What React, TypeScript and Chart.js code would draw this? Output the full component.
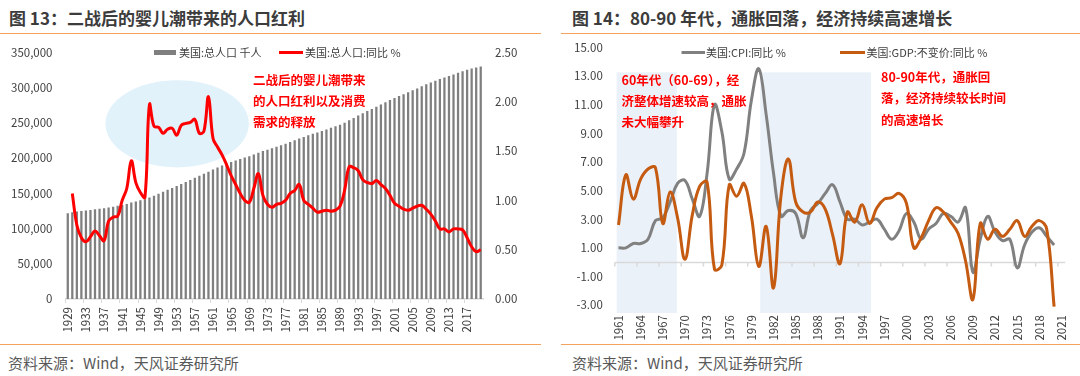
import React, { useEffect, useRef } from 'react';
import { Chart, registerables } from 'chart.js';

Chart.register(...registerables);

const FONT = "'Noto Sans CJK SC', 'Noto Sans', sans-serif";
const RULE = '#F4A35F';
const TICK = '#404040';

// ---------- 图 13 data ----------
const popStartYear = 1929;
const popYears: string[] = Array.from({ length: 92 }, (_, i) => String(popStartYear + i));
// 美国:总人口 千人
const popTotal: number[] = [
  121767, 123077, 124040, 124840, 125579, 126374, 127250, 128053, 128825, 129825,
  130880, 132122, 133402, 134860, 136739, 138397, 139928, 141389, 144126, 146631,
  149188, 152271, 154878, 157553, 160184, 163026, 165931, 168903, 171984, 174882,
  177830, 180671, 183691, 186538, 189242, 191889, 194303, 196560, 198712, 200706,
  202677, 205052, 207661, 209896, 211909, 213854, 215973, 218035, 220239, 222585,
  225055, 227726, 229966, 232188, 234307, 236348, 238466, 240651, 242804, 245021,
  247342, 250132, 253493, 256894, 260255, 263436, 266557, 269667, 272912, 276115,
  279295, 282398, 285225, 287955, 290626, 293262, 295993, 298818, 301696, 304543,
  307240, 309774, 311975, 314167, 316313, 318609, 320871, 323085, 325130, 326915,
  328478, 330000,
];
// 美国:总人口:同比 %
const popGrowth: (number | null)[] = [
  null, 1.07, 0.75, 0.62, 0.58, 0.63, 0.69, 0.64, 0.59, 0.79,
  0.83, 0.84, 1.0, 1.12, 1.4, 1.18, 1.08, 1.03, 1.97, 1.75,
  1.74, 1.68, 1.72, 1.73, 1.66, 1.76, 1.78, 1.79, 1.82, 1.68,
  1.7, 2.05, 1.63, 1.54, 1.46, 1.36, 1.25, 1.16, 1.07, 1.0,
  0.98, 1.12, 1.27, 1.05, 0.96, 0.93, 0.96, 0.97, 1.0, 1.07,
  1.1, 1.16, 1.0, 0.96, 0.92, 0.88, 0.89, 0.9, 0.89, 0.9,
  0.94, 1.1, 1.34, 1.33, 1.3, 1.21, 1.18, 1.17, 1.2, 1.16,
  1.12, 1.05, 0.97, 0.94, 0.91, 0.9, 0.92, 0.94, 0.95, 0.91,
  0.86, 0.79, 0.71, 0.71, 0.68, 0.71, 0.71, 0.7, 0.62, 0.53,
  0.48, 0.5,
];
const popLeftTicks = { min: 0, max: 350000, step: 50000 };
const popRightTicks = { min: 0, max: 2.5, step: 0.5 };
const boomEllipse = { year: 1953.1, value: 248600, halfYears: 15.8, halfValue: 61900 };
const leftNote = ['二战后的婴儿潮带来', '的人口红利以及消费', '需求的释放'];

// ---------- 图 14 data ----------
const macroStartYear = 1961;
const macroYears: string[] = Array.from({ length: 61 }, (_, i) => String(macroStartYear + i));
// 美国:CPI:同比 %
const cpi: number[] = [
  1.0, 1.0, 1.3, 1.3, 1.6, 2.9, 3.1, 4.2, 5.5, 5.7,
  4.4, 3.2, 6.2, 11.0, 9.1, 5.8, 6.5, 7.6, 11.3, 13.5,
  10.3, 6.2, 3.2, 3.6, 3.4, 1.7, 3.6, 4.1, 4.8, 5.4,
  4.2, 3.0, 3.0, 2.6, 2.8, 3.0, 2.3, 1.6, 2.2, 3.4,
  2.8, 1.6, 2.3, 2.7, 3.4, 3.2, 2.8, 3.8, -0.7, 1.6,
  3.2, 2.1, 1.5, 1.6, -0.4, 1.2, 2.1, 2.4, 1.8, 1.2,
];
// 美国:GDP:不变价:同比 %
const gdp: number[] = [
  2.6, 6.1, 4.4, 5.8, 6.5, 6.6, 2.7, 4.9, 3.1, 0.2,
  3.3, 5.3, 5.6, -0.5, -0.2, 5.4, 4.6, 5.5, 3.2, -0.3,
  2.5, -1.8, 4.6, 7.2, 4.2, 3.5, 3.5, 4.2, 3.7, 1.9,
  -0.1, 3.5, 2.8, 4.0, 2.7, 3.8, 4.4, 4.5, 4.8, 4.1,
  1.0, 1.7, 2.9, 3.8, 3.5, 2.8, 2.0, 0.1, -2.6, 2.7,
  1.6, 2.3, 1.8, 2.3, 2.9, 1.8, 2.5, 2.9, 2.3, -3.1,
];
const macroTicks: number[] = [-3, -1, 1, 3, 5, 7, 9, 11, 13, 15];
const macroRange = { min: -3.55, max: 15 };
const shadeBands: [number, number][] = [
  [1960.75, 1968.9],
  [1980.2, 1995.2],
];
const shadeTop = 13.25;
const note60s = ['60年代（60-69），经', '济整体增速较高，通胀', '未大幅攀升'];
const note80s = ['80-90年代，通胀回', '落，经济持续较长时间', '的高速增长'];

function drawNote(ctx: any, lines: string[], x: number, y: number, gap: number) {
  ctx.save();
  ctx.font = `bold 12.5px ${FONT}`;
  ctx.fillStyle = '#FF0000';
  ctx.textBaseline = 'middle';
  ctx.textAlign = 'left';
  lines.forEach((t, i) => ctx.fillText(t, x, y + i * gap));
  ctx.restore();
}

function legendText(ctx: any, text: string, x: number, y: number) {
  ctx.save();
  ctx.font = `11px ${FONT}`;
  ctx.fillStyle = TICK;
  ctx.textBaseline = 'middle';
  ctx.textAlign = 'left';
  ctx.fillText(text, x, y);
  ctx.restore();
}

const leftDecor = {
  id: 'leftDecor',
  beforeDatasetsDraw(chart: any) {
    const { ctx, scales } = chart;
    const x = scales.x;
    const y = scales.y;
    const cx = x.getPixelForValue(boomEllipse.year - popStartYear);
    const rx = Math.abs(x.getPixelForValue(boomEllipse.year + boomEllipse.halfYears - popStartYear) - cx);
    const cy = y.getPixelForValue(boomEllipse.value);
    const ry = Math.abs(y.getPixelForValue(boomEllipse.value + boomEllipse.halfValue) - cy);
    ctx.save();
    ctx.fillStyle = '#E1F2FB';
    ctx.beginPath();
    ctx.ellipse(cx, cy, rx, ry, 0, 0, Math.PI * 2);
    ctx.fill();
    ctx.restore();
  },
  afterDraw(chart: any) {
    const { ctx } = chart;
    const ds = chart.data.datasets;
    const bar = ds[1];
    const line = ds[0];
    ctx.save();
    ctx.fillStyle = bar.backgroundColor;
    ctx.fillRect(154, 50, 22, 5);
    ctx.strokeStyle = line.borderColor;
    ctx.lineWidth = 3;
    ctx.beginPath();
    ctx.moveTo(279, 52.5);
    ctx.lineTo(303, 52.5);
    ctx.stroke();
    ctx.restore();
    legendText(ctx, bar.label, 179, 52.5);
    legendText(ctx, line.label, 305, 52.5);
    drawNote(ctx, leftNote, 253, 80, 21.3);
  },
};

const rightDecor = {
  id: 'rightDecor',
  beforeDatasetsDraw(chart: any) {
    const { ctx, scales, chartArea } = chart;
    const x = scales.x;
    const y = scales.y;
    ctx.save();
    ctx.fillStyle = '#EAF1F8';
    const top = y.getPixelForValue(shadeTop);
    shadeBands.forEach(([a, b]) => {
      const x0 = x.getPixelForValue(a - macroStartYear);
      const x1 = x.getPixelForValue(b - macroStartYear);
      ctx.fillRect(x0, top, x1 - x0, chartArea.bottom - top);
    });
    const y0 = Math.round(y.getPixelForValue(0)) + 0.5;
    ctx.strokeStyle = '#D9D9D9';
    ctx.lineWidth = 1.5;
    ctx.beginPath();
    ctx.moveTo(chartArea.left, y0);
    ctx.lineTo(chartArea.right, y0);
    for (let i = 0; i <= macroYears.length; i += 3) {
      const px = x.getPixelForValue(i - 0.5);
      ctx.moveTo(px, y0);
      ctx.lineTo(px, y0 + 4);
    }
    ctx.stroke();
    ctx.restore();
  },
  afterDraw(chart: any) {
    const { ctx } = chart;
    const ds = chart.data.datasets;
    const spots = [
      { x0: 141.5, x1: 165, tx: 166 },
      { x0: 300, x1: 325, tx: 326.5 },
    ];
    ds.forEach((d: any, i: number) => {
      const s = spots[i];
      ctx.save();
      ctx.strokeStyle = d.borderColor;
      ctx.lineWidth = 3;
      ctx.beginPath();
      ctx.moveTo(s.x0, 52.5);
      ctx.lineTo(s.x1, 52.5);
      ctx.stroke();
      ctx.restore();
      legendText(ctx, d.label, s.tx, 52.5);
    });
    drawNote(ctx, note60s, 81.5, 80, 21.3);
    drawNote(ctx, note80s, 341, 77.3, 21.3);
  },
};

const tickFont = { family: FONT, size: 11.5 };

export default function App() {
  const leftRef = useRef<HTMLCanvasElement | null>(null);
  const rightRef = useRef<HTMLCanvasElement | null>(null);

  useEffect(() => {
    const left = new Chart(leftRef.current as any, {
      type: 'bar',
      data: {
        labels: popYears,
        datasets: [
          {
            type: 'line',
            label: '美国:总人口:同比 %',
            data: popGrowth,
            yAxisID: 'y1',
            borderColor: '#FF0000',
            backgroundColor: '#FF0000',
            borderWidth: 3,
            pointRadius: 0,
            tension: 0.4,
            order: 0,
          },
          {
            type: 'bar',
            label: '美国:总人口 千人',
            data: popTotal,
            yAxisID: 'y',
            backgroundColor: '#7F7F7F',
            barPercentage: 0.5,
            categoryPercentage: 1,
            order: 1,
          },
        ],
      } as any,
      options: {
        responsive: false,
        animation: false,
        devicePixelRatio: 1,
        layout: { padding: { top: 52.3, left: 0, right: 0, bottom: 0 } },
        plugins: { legend: { display: false }, tooltip: { enabled: false } },
        scales: {
          x: {
            offset: true,
            grid: {
              display: true,
              drawOnChartArea: false,
              drawTicks: true,
              tickLength: 4,
              offset: true,
              lineWidth: 1,
              color: (c: any) => (c.index % 4 === 0 ? '#D9D9D9' : 'rgba(0,0,0,0)'),
            },
            border: { display: true, color: '#D9D9D9', width: 1.5 },
            ticks: {
              autoSkip: false,
              minRotation: 90,
              maxRotation: 90,
              padding: 4,
              color: TICK,
              font: tickFont,
              callback: function (this: any, v: any, i: number) {
                return i % 4 === 0 ? popYears[i] : '';
              },
            },
            afterFit: (s: any) => {
              s.height = 45;
            },
          },
          y: {
            position: 'left',
            min: popLeftTicks.min,
            max: popLeftTicks.max,
            grid: { display: false, drawTicks: false },
            border: { display: false },
            ticks: {
              stepSize: popLeftTicks.step,
              padding: 13,
              color: TICK,
              font: tickFont,
              callback: (v: any) => Number(v).toLocaleString('en-US'),
            },
            afterFit: (s: any) => {
              s.width = 65.5;
            },
          },
          y1: {
            position: 'right',
            min: popRightTicks.min,
            max: popRightTicks.max,
            grid: { display: false, drawTicks: false },
            border: { display: false },
            ticks: {
              stepSize: popRightTicks.step,
              padding: 12,
              color: TICK,
              font: tickFont,
              callback: (v: any) => Number(v).toFixed(2),
            },
            afterFit: (s: any) => {
              s.width = 57;
            },
          },
        },
      } as any,
      plugins: [leftDecor],
    });

    const right = new Chart(rightRef.current as any, {
      type: 'line',
      data: {
        labels: macroYears,
        datasets: [
          {
            label: '美国:CPI:同比 %',
            data: cpi,
            borderColor: '#808080',
            backgroundColor: '#808080',
            borderWidth: 3,
            pointRadius: 0,
            tension: 0.4,
            order: 1,
          },
          {
            label: '美国:GDP:不变价:同比 %',
            data: gdp,
            borderColor: '#C55A11',
            backgroundColor: '#C55A11',
            borderWidth: 3,
            pointRadius: 0,
            tension: 0.4,
            order: 0,
          },
        ],
      } as any,
      options: {
        responsive: false,
        animation: false,
        devicePixelRatio: 1,
        layout: { padding: { top: 47.3, left: 0, right: 14.8, bottom: 0 } },
        plugins: { legend: { display: false }, tooltip: { enabled: false } },
        scales: {
          x: {
            offset: true,
            grid: { display: false, drawTicks: false },
            border: { display: false },
            ticks: {
              autoSkip: false,
              minRotation: 90,
              maxRotation: 90,
              padding: 2,
              color: TICK,
              font: tickFont,
              callback: function (this: any, v: any, i: number) {
                return i % 3 === 0 ? macroYears[i] : '';
              },
            },
            afterFit: (s: any) => {
              s.height = 31;
            },
          },
          y: {
            min: macroRange.min,
            max: macroRange.max,
            grid: { display: false, drawTicks: false },
            border: { display: false },
            afterBuildTicks: (s: any) => {
              s.ticks = macroTicks.map((v) => ({ value: v }));
            },
            ticks: {
              padding: 12,
              color: TICK,
              font: tickFont,
              callback: (v: any) => Number(v).toFixed(2),
            },
            afterFit: (s: any) => {
              s.width = 74.8;
            },
          },
        },
      } as any,
      plugins: [rightDecor],
    });

    return () => {
      left.destroy();
      right.destroy();
    };
  }, []);

  const titleStyle: React.CSSProperties = {
    position: 'absolute',
    top: 7,
    fontSize: 17,
    fontWeight: 700,
    color: '#3C3C3C',
    lineHeight: '21px',
    whiteSpace: 'nowrap',
    fontFamily: FONT,
  };
  const sourceStyle: React.CSSProperties = {
    position: 'absolute',
    top: 353,
    fontSize: 15,
    color: '#595959',
    lineHeight: '20px',
    whiteSpace: 'nowrap',
    fontFamily: FONT,
  };
  const rule = (left: number, top: number, width: number): React.CSSProperties => ({
    position: 'absolute',
    left,
    top,
    width,
    height: 1.5,
    background: RULE,
  });

  return (
    <div
      style={{
        position: 'absolute',
        left: 0,
        top: 0,
        width: 1080,
        height: 376,
        background: '#FFFFFF',
        overflow: 'hidden',
        fontFamily: FONT,
      }}
    >
      <div style={{ ...titleStyle, left: 9 }}>图 13：二战后的婴儿潮带来的人口红利</div>
      <div style={{ ...titleStyle, left: 572 }}>图 14：80-90 年代，通胀回落，经济持续高速增长</div>
      <div style={rule(0, 32.5, 541)} />
      <div style={rule(561, 32.5, 519)} />
      <canvas
        ref={leftRef}
        width={540}
        height={344}
        style={{ position: 'absolute', left: 0, top: 0, width: 540, height: 344 }}
      />
      <canvas
        ref={rightRef}
        width={540}
        height={344}
        style={{ position: 'absolute', left: 540, top: 0, width: 540, height: 344 }}
      />
      <div style={rule(0, 343.5, 541)} />
      <div style={rule(561, 343.5, 519)} />
      <div style={{ ...sourceStyle, left: 8 }}>资料来源：Wind，天风证券研究所</div>
      <div style={{ ...sourceStyle, left: 572 }}>资料来源：Wind，天风证券研究所</div>
    </div>
  );
}
